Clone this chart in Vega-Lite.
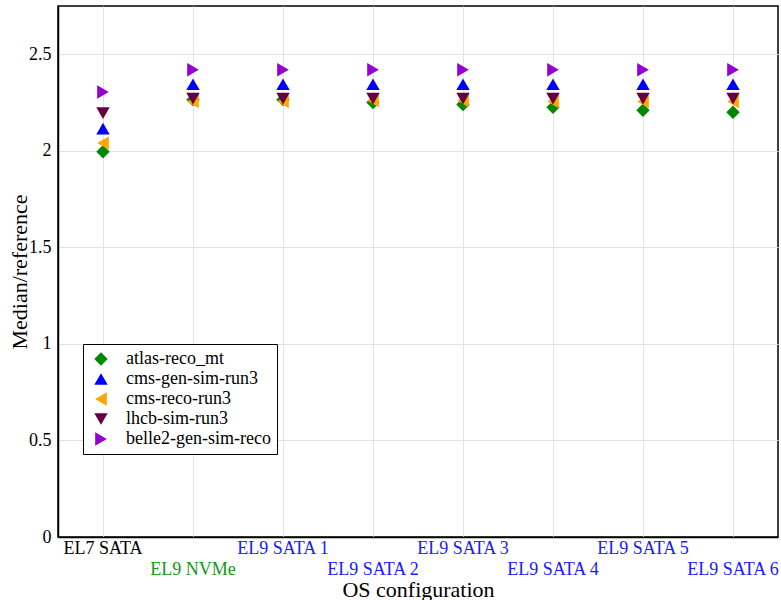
{
  "$schema": "https://vega.github.io/schema/vega-lite/v6.json",
  "width": 720,
  "height": 531,
  "autosize": {"type": "none"},
  "padding": {"left": 58, "top": 6, "right": 3, "bottom": 63},
  "background": "white",
  "config": {
    "font": "Liberation Serif",
    "view": {"stroke": "black", "strokeWidth": 1.5},
    "axis": {
      "labelFont": "Liberation Serif",
      "titleFont": "Liberation Serif",
      "labelColor": "black",
      "titleColor": "black",
      "titleFontWeight": "normal",
      "gridColor": "#e3e3e3",
      "gridWidth": 1,
      "domainColor": "black",
      "domainWidth": 1.5,
      "ticks": false
    },
    "legend": {"labelFont": "Liberation Serif"}
  },
  "data": {
    "values": [
      {"config": "EL7 SATA", "workload": "atlas-reco_mt", "ratio": 1.995},
      {"config": "EL9 NVMe", "workload": "atlas-reco_mt", "ratio": 2.265},
      {"config": "EL9 SATA 1", "workload": "atlas-reco_mt", "ratio": 2.265},
      {"config": "EL9 SATA 2", "workload": "atlas-reco_mt", "ratio": 2.25},
      {"config": "EL9 SATA 3", "workload": "atlas-reco_mt", "ratio": 2.24},
      {"config": "EL9 SATA 4", "workload": "atlas-reco_mt", "ratio": 2.225},
      {"config": "EL9 SATA 5", "workload": "atlas-reco_mt", "ratio": 2.21},
      {"config": "EL9 SATA 6", "workload": "atlas-reco_mt", "ratio": 2.2},
      {"config": "EL7 SATA", "workload": "cms-gen-sim-run3", "ratio": 2.115},
      {"config": "EL9 NVMe", "workload": "cms-gen-sim-run3", "ratio": 2.345},
      {"config": "EL9 SATA 1", "workload": "cms-gen-sim-run3", "ratio": 2.345},
      {"config": "EL9 SATA 2", "workload": "cms-gen-sim-run3", "ratio": 2.345},
      {"config": "EL9 SATA 3", "workload": "cms-gen-sim-run3", "ratio": 2.345},
      {"config": "EL9 SATA 4", "workload": "cms-gen-sim-run3", "ratio": 2.345},
      {"config": "EL9 SATA 5", "workload": "cms-gen-sim-run3", "ratio": 2.345},
      {"config": "EL9 SATA 6", "workload": "cms-gen-sim-run3", "ratio": 2.345},
      {"config": "EL7 SATA", "workload": "cms-reco-run3", "ratio": 2.04},
      {"config": "EL9 NVMe", "workload": "cms-reco-run3", "ratio": 2.255},
      {"config": "EL9 SATA 1", "workload": "cms-reco-run3", "ratio": 2.255},
      {"config": "EL9 SATA 2", "workload": "cms-reco-run3", "ratio": 2.26},
      {"config": "EL9 SATA 3", "workload": "cms-reco-run3", "ratio": 2.26},
      {"config": "EL9 SATA 4", "workload": "cms-reco-run3", "ratio": 2.255},
      {"config": "EL9 SATA 5", "workload": "cms-reco-run3", "ratio": 2.255},
      {"config": "EL9 SATA 6", "workload": "cms-reco-run3", "ratio": 2.255},
      {"config": "EL7 SATA", "workload": "lhcb-sim-run3", "ratio": 2.195},
      {"config": "EL9 NVMe", "workload": "lhcb-sim-run3", "ratio": 2.27},
      {"config": "EL9 SATA 1", "workload": "lhcb-sim-run3", "ratio": 2.27},
      {"config": "EL9 SATA 2", "workload": "lhcb-sim-run3", "ratio": 2.27},
      {"config": "EL9 SATA 3", "workload": "lhcb-sim-run3", "ratio": 2.27},
      {"config": "EL9 SATA 4", "workload": "lhcb-sim-run3", "ratio": 2.27},
      {"config": "EL9 SATA 5", "workload": "lhcb-sim-run3", "ratio": 2.27},
      {"config": "EL9 SATA 6", "workload": "lhcb-sim-run3", "ratio": 2.27},
      {"config": "EL7 SATA", "workload": "belle2-gen-sim-reco", "ratio": 2.305},
      {"config": "EL9 NVMe", "workload": "belle2-gen-sim-reco", "ratio": 2.42},
      {"config": "EL9 SATA 1", "workload": "belle2-gen-sim-reco", "ratio": 2.42},
      {"config": "EL9 SATA 2", "workload": "belle2-gen-sim-reco", "ratio": 2.42},
      {"config": "EL9 SATA 3", "workload": "belle2-gen-sim-reco", "ratio": 2.42},
      {"config": "EL9 SATA 4", "workload": "belle2-gen-sim-reco", "ratio": 2.42},
      {"config": "EL9 SATA 5", "workload": "belle2-gen-sim-reco", "ratio": 2.42},
      {"config": "EL9 SATA 6", "workload": "belle2-gen-sim-reco", "ratio": 2.42}
    ]
  },
  "mark": {"type": "point", "filled": true, "opacity": 1, "size": 180},
  "encoding": {
    "x": {
      "field": "config",
      "type": "nominal",
      "sort": null,
      "scale": {"type": "band", "paddingInner": 0, "paddingOuter": 0},
      "axis": {
        "title": "OS configuration",
        "titleFontSize": 22,
        "titleBaseline": "middle",
        "titleY": 52,
        "labelAngle": 0,
        "labelFontSize": 18,
        "labelPadding": 2,
        "labelBaseline": "top",
        "labelLineHeight": 21,
        "labelExpr": "indexof(['EL9 NVMe', 'EL9 SATA 2', 'EL9 SATA 4', 'EL9 SATA 6'], datum.value) >= 0 ? ['', datum.value] : datum.value",
        "labelColor": {
          "condition": [
            {"test": "datum.value == 'EL7 SATA'", "value": "#000000"},
            {"test": "datum.value == 'EL9 NVMe'", "value": "#119911"}
          ],
          "value": "#1a1aff"
        },
        "grid": true
      }
    },
    "y": {
      "field": "ratio",
      "type": "quantitative",
      "scale": {"domain": [0, 2.75], "nice": false, "zero": true},
      "axis": {
        "title": "Median/reference",
        "titleFontSize": 22,
        "titleBaseline": "middle",
        "titleX": -39,
        "labelFontSize": 18,
        "labelPadding": 7,
        "format": "~g",
        "values": [0, 0.5, 1, 1.5, 2, 2.5],
        "grid": true
      }
    },
    "color": {
      "field": "workload",
      "type": "nominal",
      "scale": {
        "domain": ["atlas-reco_mt", "cms-gen-sim-run3", "cms-reco-run3", "lhcb-sim-run3", "belle2-gen-sim-reco"],
        "range": ["#008800", "#0000ff", "#ffa500", "#660044", "#9400d3"]
      },
      "legend": {
        "title": null,
        "orient": "none",
        "legendX": 25,
        "legendY": 338,
        "fillColor": "white",
        "strokeColor": "black",
        "padding": 6,
        "labelFontSize": 18,
        "labelColor": "black",
        "labelOffset": 16,
        "symbolOffset": 3,
        "symbolSize": 180,
        "symbolStrokeWidth": 0,
        "rowPadding": 2,
        "labelLimit": 300
      }
    },
    "shape": {
      "field": "workload",
      "type": "nominal",
      "scale": {
        "domain": ["atlas-reco_mt", "cms-gen-sim-run3", "cms-reco-run3", "lhcb-sim-run3", "belle2-gen-sim-reco"],
        "range": ["diamond", "triangle-up", "triangle-left", "triangle-down", "triangle-right"]
      },
      "legend": null
    }
  }
}
